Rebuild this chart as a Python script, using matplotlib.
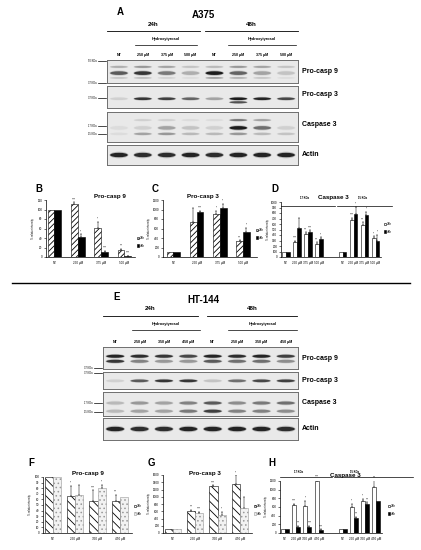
import numpy as np
import matplotlib.pyplot as plt
from matplotlib.patches import Ellipse, Patch

plt.rcParams['font.family'] = ['Liberation Sans', 'DejaVu Sans']
plt.rcParams['hatch.linewidth'] = 0.6

W, H = 421, 550

# ---------------- data ----------------
lanes_a = ['NT', '250 µM', '375 µM', '500 µM']
lanes_e = ['NT', '250 µM', '350 µM', '450 µM']
blot_names = ['Pro-casp 9', 'Pro-casp 3', 'Caspase 3', 'Actin']

# band intensities per lane (24h x4, 48h x4), read by eye from the blots
a_pc9_main = [0.65, 0.85, 0.5, 0.25, 1.0, 0.6, 0.3, 0.15]
a_pc9_upper = [0.25, 0.35, 0.3, 0.15, 0.2, 0.35, 0.3, 0.15]
a_pc9_low = [0.15, 0.2, 0.1, 0.05, 0.35, 0.25, 0.15, 0.05]
a_pc3 = [0.1, 0.85, 0.8, 0.6, 0.3, 1.0, 0.95, 0.75]
a_pc3_low = [0.0, 0.0, 0.0, 0.0, 0.0, 0.7, 0.0, 0.0]
a_c3_upper = [0.0, 0.1, 0.1, 0.05, 0.05, 0.5, 0.3, 0.0]
a_c3_17 = [0.05, 0.1, 0.3, 0.15, 0.1, 1.0, 0.55, 0.1]
a_c3_15 = [0.05, 0.3, 0.35, 0.2, 0.2, 0.35, 0.2, 0.15]
a_actin = [0.95, 0.9, 0.9, 0.95, 0.9, 0.95, 0.95, 0.95]

e_pc9_up = [0.95, 0.9, 0.85, 0.75, 0.95, 0.9, 0.95, 0.8]
e_pc9_low = [0.85, 0.45, 0.35, 0.35, 0.65, 0.55, 0.55, 0.4]
e_pc3 = [0.1, 0.65, 0.85, 0.85, 0.15, 0.55, 0.75, 0.8]
e_c3_17 = [0.2, 0.35, 0.3, 0.45, 0.65, 0.4, 0.5, 0.55]
e_c3_15 = [0.2, 0.3, 0.3, 0.5, 0.8, 0.45, 0.45, 0.4]
e_actin = [0.95, 0.9, 0.9, 0.95, 0.95, 0.95, 0.95, 0.9]

# B: A375 pro-casp 9
b_24 = [100, 112, 61, 15]
b_48 = [100, 43, 11, 2]
b_e24 = [0, 3, 13, 2]
b_e48 = [0, 5, 2, 1]
b_s24 = ['', '****', '*', '***']
b_s48 = ['', '**', '****', '****']

# C: A375 pro-casp 3
c_24 = [100, 730, 910, 330]
c_48 = [100, 950, 1040, 520]
c_e24 = [0, 300, 60, 20]
c_e48 = [0, 20, 80, 100]
c_s24 = ['', '', '**', '***']
c_s48 = ['', '****', '**', '*']

# D: A375 caspase 3 (17 KDa then 15 KDa)
d_24 = [100, 270, 410, 240, 100, 680, 590, 340]
d_48 = [100, 530, 460, 320, 100, 790, 770, 300]
d_e24 = [0, 30, 40, 30, 0, 30, 40, 40]
d_e48 = [0, 180, 30, 40, 0, 120, 50, 100]
d_s24 = ['', '****', '***', '***', '', '****', '***', '*']
d_s48 = ['', '', '****', '**', '', '*', '**', '*']

# F: HT-144 pro-casp 9
f_24 = [100, 66, 58, 58]
f_48 = [100, 67, 80, 65]
f_e24 = [0, 18, 18, 10]
f_e48 = [0, 18, 6, 0]
f_s24 = ['', '**', '****', '***']
f_s48 = ['', '', '*', '']

# G: HT-144 pro-casp 3
g_24 = [100, 620, 1290, 1340]
g_48 = [100, 560, 500, 690]
g_e24 = [0, 20, 30, 250]
g_e48 = [0, 20, 90, 300]
g_s24 = ['', '***', '****', '**']
g_s48 = ['', '****', '*', '']

# H: HT-144 caspase 3 (17 KDa then 15 KDa)
h_24 = [100, 640, 620, 1210, 100, 610, 740, 1070]
h_48 = [100, 150, 150, 80, 100, 340, 670, 730]
h_e24 = [0, 30, 120, 20, 0, 70, 50, 150]
h_e48 = [0, 20, 20, 10, 0, 30, 40, 0]
h_s24 = ['', '****', '*', '****', '', '**', '**', '***']
h_s48 = ['', '***', '****', '****', '', '***', '***', '']

fig = plt.figure(figsize=(W / 100, H / 100), dpi=100)


def rect(x0, y0, x1, y1):
    return [x0 / W, 1 - y1 / H, (x1 - x0) / W, (y1 - y0) / H]


def txt(x, y, s, size=4, bold=True, ha='center', **kw):
    fig.text(x / W, 1 - y / H, s, fontsize=size,
             fontweight='bold' if bold else 'normal', ha=ha, va='center', **kw)


def hline(x0, x1, y, lw=0.6):
    fig.add_artist(plt.Line2D([x0 / W, x1 / W], [1 - y / H, 1 - y / H],
                              color='black', lw=lw))


def draw_blot(r, bands):
    ax = fig.add_axes(rect(*r))
    ax.set_xlim(-0.5, 7.5)
    ax.set_ylim(0, 1)
    ax.set_facecolor('#e9e9e9')
    ax.set_xticks([])
    ax.set_yticks([])
    for sp in ax.spines.values():
        sp.set_color('#6f6f6f')
        sp.set_linewidth(0.7)
    for yc, hh, vals in bands:
        for lane, v in enumerate(vals):
            if v <= 0:
                continue
            ax.add_patch(Ellipse((lane, yc), 0.8, hh * 1.5,
                                 color='#333333', alpha=v * 0.25, lw=0))
            ax.add_patch(Ellipse((lane, yc), 0.74, hh,
                                 color='black', alpha=min(1.0, v * 0.85), lw=0))
    return ax


def blot_header(title, letter, y0, x_lines):
    txt(x_lines[0][0] + 10, y0, letter, size=7, ha='left')
    txt(203, y0 + 3, title, size=7)
    ya = y0 + 16
    txt((x_lines[0][0] + x_lines[0][1]) / 2, ya - 4, '24h', size=4.5)
    txt((x_lines[1][0] + x_lines[1][1]) / 2, ya - 4, '48h', size=4.5)
    hline(x_lines[0][0], x_lines[0][1], ya + 3)
    hline(x_lines[1][0], x_lines[1][1], ya + 3)
    yh = ya + 14
    for xs in x_lines[2:]:
        txt((xs[0] + xs[1]) / 2, yh - 3, 'Hydroxytyrosol', size=2.8)
        hline(xs[0], xs[1], yh + 3, lw=0.5)


def lane_labels(lanes, x0, x1, y):
    step = (x1 - x0) / 8
    for i, lab in enumerate(lanes * 2):
        txt(x0 + step * (i + 0.5), y, lab, size=2.6)


def right_labels(x, ys):
    for name, y in zip(blot_names, ys):
        txt(x, y, name, size=5, ha='left')


def markers(x, items):
    for lab, y in items:
        txt(x - 9, y, lab, size=1.8, bold=False, ha='right')
        hline(x - 8, x, y, lw=0.5)


# ---------------- panel A ----------------
blot_header('A375', 'A', 12, [(107, 200), (205, 298), (135, 197), (228, 296)])
lane_labels(lanes_a, 107, 298, 55)
draw_blot((107, 60, 298, 83), [(0.7, 0.09, a_pc9_upper), (0.43, 0.16, a_pc9_main),
                               (0.22, 0.07, a_pc9_low)])
draw_blot((107, 86, 298, 108), [(0.42, 0.12, a_pc3), (0.26, 0.1, a_pc3_low)])
draw_blot((107, 112, 298, 142), [(0.73, 0.07, a_c3_upper), (0.47, 0.12, a_c3_17),
                                 (0.27, 0.08, a_c3_15)])
draw_blot((107, 145, 298, 165), [(0.5, 0.22, a_actin)])
right_labels(302, [71, 95, 124, 154])
markers(106, [('50 KDa', 61), ('37 KDa', 83), ('37 KDa', 98),
              ('17 KDa', 126), ('15 KDa', 134)])

# ---------------- panel E ----------------
blot_header('HT-144', 'E', 297, [(103, 198), (207, 297), (132, 200), (228, 297)])
lane_labels(lanes_e, 103, 298, 342)
draw_blot((103, 347, 298, 369), [(0.58, 0.14, e_pc9_up), (0.35, 0.14, e_pc9_low)])
draw_blot((103, 372, 298, 389), [(0.48, 0.16, e_pc3)])
draw_blot((103, 392, 298, 416), [(0.54, 0.13, e_c3_17), (0.2, 0.13, e_c3_15)])
draw_blot((103, 418, 298, 440), [(0.5, 0.2, e_actin)])
right_labels(302, [358, 380, 402, 429])
markers(102, [('37 KDa', 368), ('37 KDa', 373), ('17 KDa', 403), ('15 KDa', 412)])

hline(12, 410, 283, lw=1.0)

# ---------------- bar panels ----------------
hatch_24 = dict(facecolor='white', edgecolor='black', hatch='//////', lw=0.4)
solid_48 = dict(facecolor='black', edgecolor='black', lw=0.4)
open_24 = dict(facecolor='white', edgecolor='black', lw=0.4)
back_24 = dict(facecolor='white', edgecolor='black', hatch='\\\\\\\\', lw=0.4)
dot_48 = dict(facecolor='#f2f2f2', edgecolor='#999999', hatch='....', lw=0.4)


def bar_panel(r, pos, xlim, v24, v48, e24, e48, s24, s48, ylim, ystep,
              labels, st24, st48, bw, leg_xy, ylabpad=1.5):
    ax = fig.add_axes(rect(*r))
    pos = np.asarray(pos, dtype=float)
    ax.bar(pos - bw / 2, v24, bw, **st24)
    ax.bar(pos + bw / 2, v48, bw, **st48)
    for off, vals, errs, stars in [(-bw / 2, v24, e24, s24), (bw / 2, v48, e48, s48)]:
        for p, v, e, s in zip(pos + off, vals, errs, stars):
            if e:
                ax.errorbar(p, v, yerr=[[0], [e]], color='black', lw=0.35,
                            capsize=0.8, capthick=0.35)
            ax.text(p, v + e + ylim * 0.015, s, fontsize=1.8, ha='center', va='bottom')
    ax.set_xlim(*xlim)
    ax.set_ylim(0, ylim)
    ax.set_yticks(np.arange(0, ylim + 1, ystep))
    ax.set_xticks(pos)
    ax.set_xticklabels(labels)
    ax.tick_params(labelsize=2.2, length=1.2, width=0.4, pad=1.5)
    ax.tick_params(axis='x', length=0, pad=3)
    for sp in ['top', 'right']:
        ax.spines[sp].set_visible(False)
    for sp in ['left', 'bottom']:
        ax.spines[sp].set_linewidth(0.5)
    ax.set_ylabel('% relative intensity', fontsize=1.8, labelpad=ylabpad)
    handles = [Patch(**st24, label='24h'), Patch(**st48, label='48h')]
    ax.legend(handles=handles, loc='center left', frameon=False, fontsize=2.2,
              handlelength=0.8, handleheight=0.7, handletextpad=0.3, labelspacing=1.0,
              borderpad=0.1, bbox_to_anchor=(leg_xy[0] / W, 1 - leg_xy[1] / H),
              bbox_transform=fig.transFigure)
    return ax


four = [0, 1, 2, 3]
eight = [0, 1, 2, 3, 5.15, 6.15, 7.15, 8.15]

# B
txt(35, 189, 'B', size=7, ha='left')
txt(110, 196, 'Pro-casp 9', size=4.5)
bar_panel((46, 200, 135, 257), four, (-0.36, 3.45), b_24, b_48, b_e24, b_e48,
          b_s24, b_s48, 120, 20, lanes_a, hatch_24, solid_48, 0.29, (135, 242))
# C
txt(152, 189, 'C', size=7, ha='left')
txt(203, 196, 'Pro-casp 3', size=4.5)
bar_panel((163, 200, 257, 257), four, (-0.45, 3.6), c_24, c_48, c_e24, c_e48,
          c_s24, c_s48, 1200, 200, lanes_a, hatch_24, solid_48, 0.29, (254, 234))
# D
txt(271, 189, 'D', size=7, ha='left')
txt(333, 198, 'Caspase 3', size=4.5)
txt(305, 198, '17 KDa', size=2)
txt(362, 198, '15 KDa', size=2)
hline(281, 335, 206, lw=0.5)
hline(337, 392, 206, lw=0.5)
bar_panel((281, 202, 381, 257), eight, (-0.45, 8.65), d_24, d_48, d_e24, d_e48,
          d_s24, d_s48, 1000, 100, lanes_a * 2, open_24, solid_48, 0.36, (382, 228),
          ylabpad=0.5)

# F
txt(28, 463, 'F', size=7, ha='left')
txt(88, 474, 'Pro-casp 9', size=4.5)
bar_panel((43, 477, 132, 533), four, (-0.45, 3.55), f_24, f_48, f_e24, f_e48,
          f_s24, f_s48, 100, 10, lanes_e, back_24, dot_48, 0.37, (132, 510))
# G
txt(148, 463, 'G', size=7, ha='left')
txt(205, 474, 'Pro-casp 3', size=4.5)
bar_panel((163, 475, 252, 533), four, (-0.45, 3.55), g_24, g_48, g_e24, g_e48,
          g_s24, g_s48, 1600, 200, lanes_e, back_24, dot_48, 0.37, (252, 510))
# H
txt(268, 463, 'H', size=7, ha='left')
txt(345, 475, 'Caspase 3', size=4.5)
txt(298, 472, '17 KDa', size=2)
txt(355, 472, '15 KDa', size=2)
hline(280, 332, 477, lw=0.5)
hline(334, 413, 477, lw=0.5)
bar_panel((280, 481, 382, 533), eight, (-0.45, 8.65), h_24, h_48, h_e24, h_e48,
          h_s24, h_s48, 1200, 200, lanes_e * 2, open_24, solid_48, 0.36, (386, 510))

fig.savefig('out.png', dpi=100, facecolor='white')
